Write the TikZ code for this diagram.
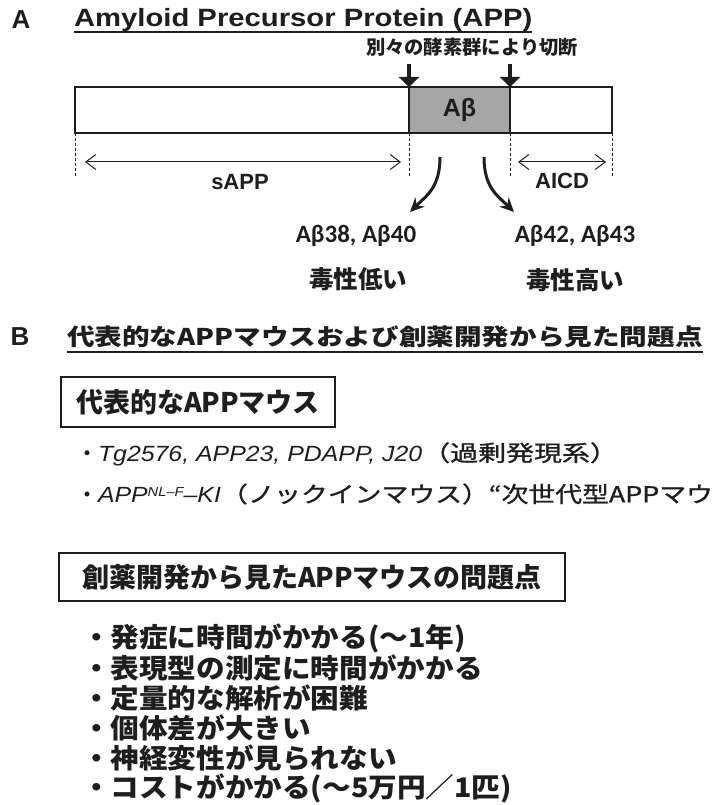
\documentclass[tikz,border=0pt]{standalone}
\usepackage{fontspec}
\usepackage{graphicx}
\usetikzlibrary{arrows.meta}
\setmainfont{Liberation Sans}
\newfontfamily\jp{Noto Sans CJK JP}
\newfontfamily\jpm{Noto Sans CJK JP}[FakeBold=1]
\newfontfamily\carl{Carlito}
\newcommand{\itx}[1]{\scalebox{1.06}[1]{#1}}
\definecolor{abgray}{RGB}{166,166,166}
\definecolor{ink}{RGB}{30,30,30}
\tikzset{
  txt/.style={inner sep=0pt, outer sep=0pt, text=ink},
  boxline/.style={draw=ink, line width=1.1pt, inner sep=0pt, outer sep=0pt, text=ink},
  cutarrow/.style={draw=ink, line width=4pt, -{Triangle[width=20pt,length=10pt]}},
  dimarrow/.style={draw=ink, line width=1pt, {Straight Barb[length=10pt,width=15pt]}-{Straight Barb[length=10pt,width=15pt]}},
  dashln/.style={draw=ink, line width=0.9pt, dash pattern=on 3pt off 2pt},
  curvarrow/.style={draw=ink, line width=3pt, -{Stealth[length=14pt,width=13pt]}},
  uline/.style={draw=ink, line width=1.8pt},
  itemtxt/.style={txt, anchor=west, font=\jp\bfseries\fontsize{27}{29}\selectfont},
  bultxt/.style={txt, anchor=west, font=\jpm\fontsize{22}{25}\selectfont},
  boxtxt/.style={boxline, font=\jp\bfseries\fontsize{27}{30}\selectfont},
  panellbl/.style={txt, font=\fontsize{26}{28}\selectfont\bfseries}
}
\begin{document}
\begin{tikzpicture}[x=1pt,y=-1pt]
\useasboundingbox (0,0) rectangle (712,805);
\fill[white] (0,0) rectangle (712,805);

% ---------- Section A ----------
\node[panellbl] (la) at (21,20) {A};
\node[txt, anchor=base west, font=\fontsize{25}{28}\selectfont\bfseries] (ta) at (74,27)
  {\scalebox{1.17}[1]{Amyloid Precursor Protein (APP)}};
\draw[uline] ([yshift=-5pt]ta.base west) -- ([yshift=-5pt]ta.base east);

\node[txt, font=\jp\bfseries\fontsize{19.3}{22}\selectfont] (cutlbl) at (472,47) {別々の酵素群により切断};

\node[boxline, minimum width=537pt, minimum height=46pt] (app) at (343.5,110) {};
\node[boxline, fill=abgray, minimum width=101pt, minimum height=46pt,
      font=\fontsize{25}{27}\selectfont\bfseries] (ab) at (459.5,110) {Aβ};

\coordinate (d1) at (409,64);
\coordinate (d2) at (510,64);
\draw[cutarrow] (d1) -- (d1 |- app.north);
\draw[cutarrow] (d2) -- (d2 |- app.north);

\draw[dashln] (app.south west) -- ++(0,43);
\draw[dashln] (ab.south west) -- ++(0,43);
\draw[dashln] (ab.south east) -- ++(0,43);
\draw[dashln] (app.south east) -- ++(0,43);

\coordinate (s1) at (85,162);
\coordinate (s2) at (401,162);
\draw[dimarrow] (s1) -- (s2);
\coordinate (a1) at (518,162);
\coordinate (a2) at (606,162);
\draw[dimarrow] (a1) -- (a2);

\node[txt, font=\fontsize{22}{24}\selectfont\bfseries] (sapp) at (240,182) {sAPP};
\node[txt, font=\fontsize{22}{24}\selectfont\bfseries] (aicd) at (562,181) {AICD};

\coordinate (cl0) at (440,157);
\coordinate (cl1) at (410,212);
\draw[curvarrow] (cl0) .. controls (440,188) and (426,196) .. (cl1);
\coordinate (cr0) at (484,157);
\coordinate (cr1) at (514,212);
\draw[curvarrow] (cr0) .. controls (484,188) and (498,196) .. (cr1);

\node[txt, font=\carl\fontsize{25}{27}\selectfont\bfseries] (abl) at (356,236) {Aβ38, Aβ40};
\node[txt, font=\carl\fontsize{25}{27}\selectfont\bfseries] (abh) at (575,236) {Aβ42, Aβ43};
\node[txt, font=\jp\bfseries\fontsize{24.5}{27}\selectfont] (toxl) at (358,279) {毒性低い};
\node[txt, font=\jp\bfseries\fontsize{24.5}{27}\selectfont] (toxh) at (575,280) {毒性高い};

% ---------- Section B ----------
\node[panellbl] (lb) at (20,337) {B};
\node[txt, anchor=west, font=\jp\bfseries\fontsize{23}{26}\selectfont] (tb) at (67,337)
  {\scalebox{1.2}[1]{代表的なAPPマウスおよび創薬開発から見た問題点}};
\draw[uline] ([yshift=-6pt]tb.base west) -- ([yshift=-6pt]tb.base east);

\node[boxtxt, minimum width=274pt, minimum height=50pt] (box1) at (198,402) {代表的なAPPマウス};

\node[bultxt] (bl1) at (76,454)
  {・{\rmfamily\itshape\scalebox{1.13}[1]{Tg2576, APP23, PDAPP, J20}}\scalebox{1.27}[1]{（過剰発現系）}};
\node[bultxt] (bl2) at (76,494)
  {・{\rmfamily\itshape\scalebox{1.13}[1]{APP\raisebox{6pt}{\fontsize{13}{13}\selectfont NL–F}–KI}}\scalebox{1.22}[1]{（ノックインマウス）“次世代型APPマウ}};

\node[boxtxt, minimum width=506pt, minimum height=48pt] (box2) at (312,577) {創薬開発から見たAPPマウスの問題点};

\node[itemtxt] (i1) at (82,638) {\itx{・発症に時間がかかる(～1年)}};
\node[itemtxt] (i2) at (82,668) {\itx{・表現型の測定に時間がかかる}};
\node[itemtxt] (i3) at (82,698) {\itx{・定量的な解析が困難}};
\node[itemtxt] (i4) at (82,728) {\itx{・個体差が大きい}};
\node[itemtxt] (i5) at (82,758) {\itx{・神経変性が見られない}};
\node[itemtxt] (i6) at (82,788) {\itx{・コストがかかる(～5万円／1匹)}};
\end{tikzpicture}
\end{document}
